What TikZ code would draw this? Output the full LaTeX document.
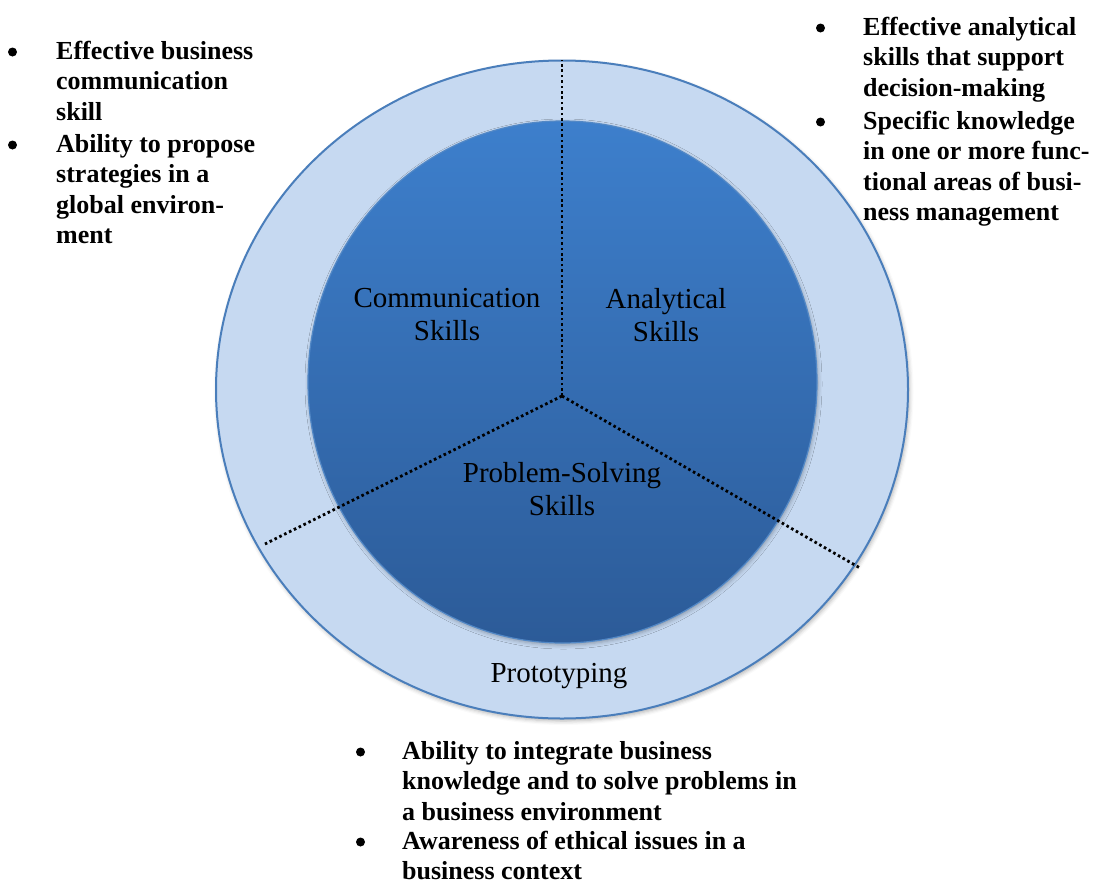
\documentclass[tikz,border=0pt]{standalone}
\usepackage{fontspec}
\setmainfont{Liberation Serif}
\usetikzlibrary{shapes.geometric,shadows.blur}
\definecolor{ringfill}{HTML}{C6D9F1}
\definecolor{ringedge}{HTML}{4A7EBB}
\definecolor{coretop}{HTML}{3D7FCC}
\definecolor{corebottom}{HTML}{2C5B98}
\definecolor{coreedge}{HTML}{5288C6}
\begin{document}
\begin{tikzpicture}[x=1pt,y=-1pt,
  ring/.style={ellipse, inner sep=0, fill=ringfill, draw=ringedge, line width=2pt,
    blur shadow={shadow xshift=1.5pt, shadow yshift=-2.5pt, shadow blur radius=4pt, shadow opacity=30}},
  core/.style={ellipse, inner sep=0, top color=coretop, bottom color=corebottom,
    draw=coreedge, line width=1.2pt,
    blur shadow={shadow xshift=1pt, shadow yshift=-2pt, shadow blur radius=4pt, shadow opacity=30}},
  divider/.style={black, line width=2.8pt, dash pattern=on 2.6pt off 2.8pt},
  skilltext/.style={inner sep=0, align=center, font=\fontsize{29}{33}\selectfont},
  bulletmark/.style={circle, fill=black, inner sep=0, minimum size=9pt},
  itemtext/.style={anchor=base west, inner sep=0, font=\fontsize{26}{30.5}\selectfont\bfseries}
]
\useasboundingbox (0,0) rectangle (1097,884);

% rings: prototyping band and the three core skills
\node[ring, minimum width=692pt, minimum height=658pt] (outer) at (562,389.5) {};
\node[core, minimum width=509pt, minimum height=522pt] (inner) at (562.5,382) {};

% sector dividers
\coordinate (hub) at (562,396);
\coordinate (topend) at (outer.north);
\coordinate (leftend) at (265,544);
\coordinate (rightend) at (860,568);
\draw[divider] (hub) -- (topend);
\draw[divider] (hub) -- (leftend);
\draw[divider] (hub) -- (rightend);

% sector labels
\node[skilltext] (comm) at (447,315) {Communication\\Skills};
\node[skilltext] (anal) at (666,315) {Analytical\\Skills};
\node[skilltext] (prob) at (562,489) {Problem-Solving\\Skills};
\node[skilltext, anchor=base] (proto) at (559,682) {Prototyping};

% communication outcomes
\node[bulletmark] (lb1) at (12.5,52) {};
\node[itemtext] (lt1) at (56,59) {\parbox[t]{300pt}{\raggedright
  Effective business\\communication\\skill}};
\node[bulletmark] (lb2) at (12.5,145) {};
\node[itemtext] (lt2) at (56,152) {\parbox[t]{300pt}{\raggedright
  Ability to propose\\strategies in a\\global environ-\\ment}};

% analytical outcomes
\node[bulletmark] (rb1) at (820.5,28) {};
\node[itemtext] (rt1) at (863,35) {\parbox[t]{300pt}{\raggedright
  Effective analytical\\skills that support\\decision-making}};
\node[bulletmark] (rb2) at (820.5,122) {};
\node[itemtext] (rt2) at (863,129) {\parbox[t]{300pt}{\raggedright
  Specific knowledge\\in one or more func-\\tional areas of busi-\\ness management}};

% problem-solving outcomes
\node[bulletmark] (bb1) at (360.5,752) {};
\node[itemtext] (bt1) at (402,759) {\parbox[t]{500pt}{\raggedright
  Ability to integrate business\\knowledge and to solve problems in\\a business environment}};
\node[bulletmark] (bb2) at (360.5,842) {};
\node[itemtext] (bt2) at (402,849) {\parbox[t]{500pt}{\raggedright
  Awareness of ethical issues in a\\business context}};
\end{tikzpicture}
\end{document}
